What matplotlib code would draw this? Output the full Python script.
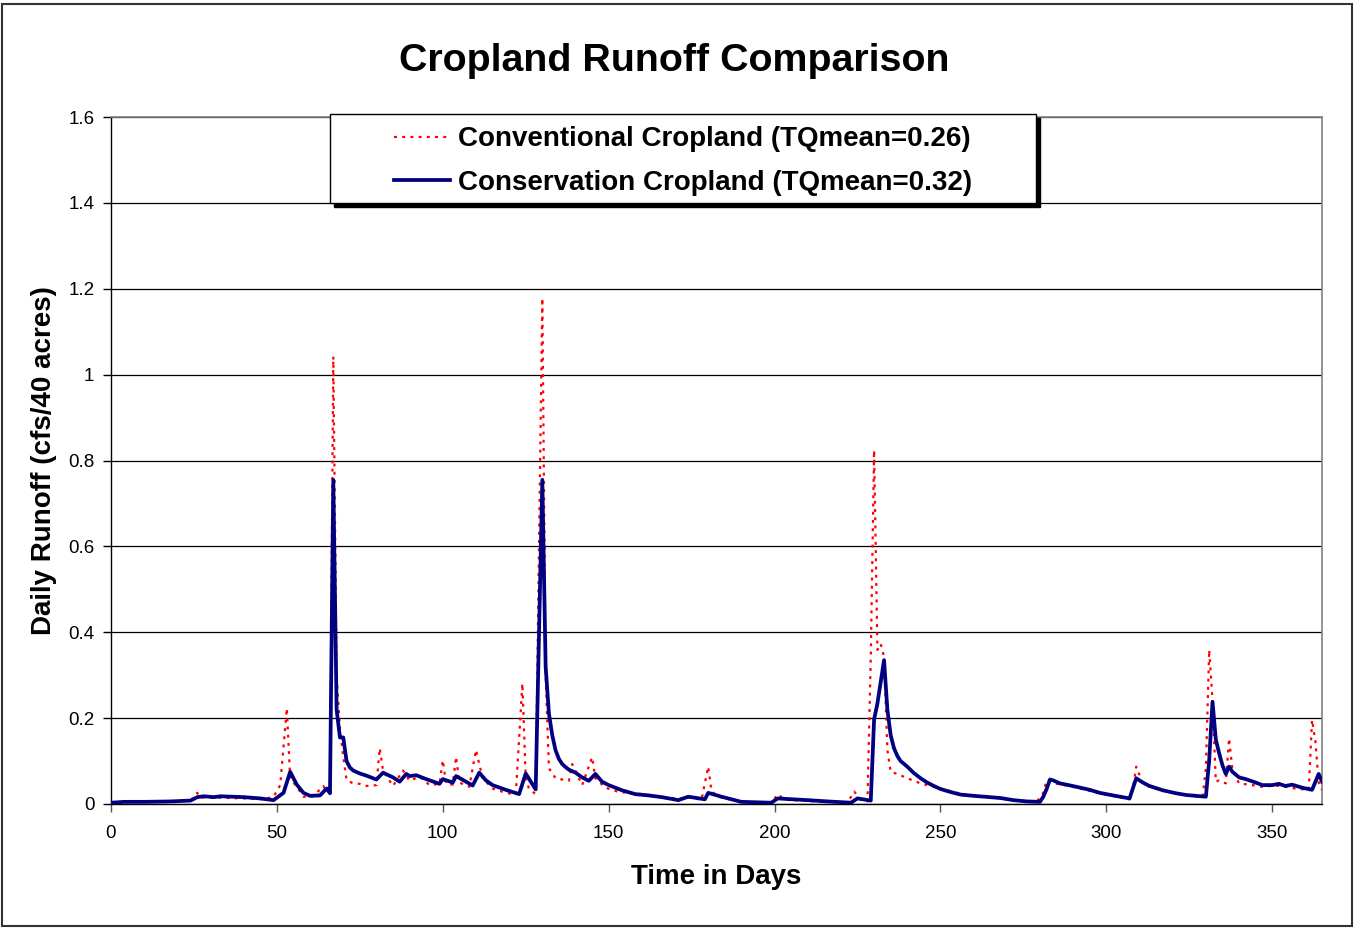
import matplotlib
matplotlib.use("Agg")
import matplotlib.pyplot as plt
from matplotlib.patches import Rectangle

plt.rcParams['font.family'] = ['Liberation Sans', 'DejaVu Sans']

# Conservation cropland (blue solid): (day, runoff)
cons_days = [0, 4, 10, 18, 24, 26, 28, 31, 33, 40, 45, 49, 52, 54, 56, 58, 60, 63, 65, 66,
             67, 68, 69, 70, 71, 72, 73, 75, 77, 80, 82, 85, 87, 89, 90, 92, 95, 99, 100,
             103, 104, 107, 109, 111, 113, 115, 119, 123, 125, 128, 130, 131, 132, 133, 134,
             135, 136, 137, 138, 140, 142, 144, 146, 148, 150, 154, 158, 162, 166, 171, 174,
             179, 180, 184, 190, 195, 199, 201, 203, 210, 216, 223, 225, 229, 230, 231, 233,
             234, 235, 236, 237, 238, 240, 242, 244, 246, 248, 250, 253, 256, 260, 265, 268,
             272, 276, 280, 281, 282, 283, 284, 286, 288, 291, 295, 298, 302, 307, 309, 311,
             313, 317, 321, 324, 327, 330, 331, 332, 333, 334, 335, 336, 337, 338, 340, 342,
             345, 347, 350, 352, 354, 356, 359, 362, 364, 365]
cons_vals = [0.003, 0.005, 0.005, 0.006, 0.008, 0.016, 0.018, 0.016, 0.018, 0.016, 0.013,
             0.009, 0.026, 0.075, 0.045, 0.026, 0.019, 0.02, 0.036, 0.025,
             0.755, 0.22, 0.155, 0.155, 0.1, 0.085, 0.078, 0.071, 0.066, 0.057, 0.073, 0.062,
             0.052, 0.07, 0.065, 0.067, 0.058, 0.047, 0.058,
             0.05, 0.065, 0.052, 0.043, 0.073, 0.055, 0.044, 0.033, 0.023, 0.071, 0.034,
             0.755, 0.32, 0.21, 0.16, 0.125, 0.105, 0.093, 0.086, 0.08, 0.073, 0.062, 0.054,
             0.07, 0.052, 0.044, 0.032, 0.023, 0.02, 0.016, 0.009, 0.017, 0.011, 0.026,
             0.017, 0.005, 0.004, 0.003, 0.013, 0.012, 0.009, 0.006, 0.003, 0.013, 0.008,
             0.197, 0.234, 0.335, 0.22, 0.16, 0.13, 0.112, 0.1, 0.087, 0.072, 0.06, 0.05,
             0.042, 0.035, 0.028, 0.022, 0.019, 0.016, 0.014, 0.009, 0.006, 0.005, 0.017,
             0.035, 0.057, 0.055, 0.048, 0.045, 0.04, 0.033, 0.026, 0.02, 0.013, 0.06,
             0.05, 0.042, 0.032, 0.025, 0.021, 0.019, 0.017, 0.102, 0.238, 0.15, 0.118,
             0.09, 0.07, 0.087, 0.075, 0.062, 0.058, 0.05, 0.044, 0.044, 0.047, 0.042,
             0.045, 0.038, 0.033, 0.07, 0.052]

# Conventional cropland (red dotted): (day, runoff)
conv_days = [0, 3, 4, 5, 10, 18, 24, 26, 27, 31, 40, 46, 49, 51, 53, 54, 56, 58, 61, 64,
             65, 66, 67, 68, 69, 70, 71, 73, 75, 77, 80, 81, 82, 85, 88, 90, 93, 96, 99,
             100, 101, 103, 104, 105, 108, 110, 112, 115, 119, 122, 124, 125, 126, 128, 130,
             131, 132, 134, 138, 139, 142, 145, 146, 149, 153, 159, 165, 171, 174, 178, 180,
             181, 183, 190, 199, 201, 203, 210, 216, 222, 224, 226, 228, 229, 230, 231, 232,
             233, 234, 235, 237, 240, 244, 248, 252, 256, 260, 265, 272, 279, 281, 282, 283,
             286, 291, 298, 307, 308, 309, 311, 313, 317, 321, 325, 329, 330, 331, 332, 333,
             334, 336, 337, 338, 340, 344, 347, 351, 354, 357, 361, 362, 363, 364, 365]
conv_vals = [0.003, 0.004, 0.01, 0.004, 0.004, 0.005, 0.008, 0.026, 0.015, 0.015, 0.013,
             0.011, 0.017, 0.044, 0.223, 0.06, 0.04, 0.017, 0.018, 0.042,
             0.028, 0.035, 1.042, 0.3, 0.177, 0.11, 0.056, 0.048, 0.047, 0.042, 0.044, 0.13,
             0.077, 0.042, 0.078, 0.054, 0.064, 0.044, 0.047,
             0.102, 0.047, 0.045, 0.11, 0.05, 0.04, 0.126, 0.06, 0.036, 0.026, 0.022, 0.281,
             0.06, 0.035, 0.023, 1.178,
             0.3, 0.083, 0.06, 0.054, 0.093, 0.044, 0.109, 0.06, 0.038, 0.028, 0.024, 0.018,
             0.012, 0.015, 0.01, 0.087,
             0.03, 0.017, 0.005, 0.003, 0.023, 0.01, 0.007, 0.005, 0.003, 0.029, 0.01, 0.006,
             0.343, 0.824, 0.359, 0.373,
             0.343, 0.126, 0.075, 0.07, 0.06, 0.048, 0.04, 0.032, 0.024, 0.019, 0.016, 0.009,
             0.005, 0.026, 0.055, 0.05,
             0.046, 0.038, 0.025, 0.011, 0.035, 0.087, 0.048, 0.04, 0.031, 0.024, 0.02, 0.016,
             0.083, 0.359, 0.242, 0.052,
             0.055, 0.048, 0.153, 0.079, 0.048, 0.044, 0.04, 0.043, 0.04, 0.036, 0.033, 0.196,
             0.147, 0.05, 0.033]

x_ticks = [0, 50, 100, 150, 200, 250, 300, 350]
y_ticks = [0, 0.2, 0.4, 0.6, 0.8, 1.0, 1.2, 1.4, 1.6]
y_tick_labels = ['0', '0.2', '0.4', '0.6', '0.8', '1', '1.2', '1.4', '1.6']
label_conv = 'Conventional Cropland (TQmean=0.26)'
label_cons = 'Conservation Cropland (TQmean=0.32)'

W, H = 1355, 931
fig = plt.figure(figsize=(W / 100, H / 100), dpi=100)
fig.patch.set_facecolor('white')

# outer border of the chart area
fig.add_artist(Rectangle((2 / W, 5 / H), 1350 / W, 922 / H, transform=fig.transFigure,
                         fill=False, edgecolor='#333333', linewidth=1.5))

left, right, top, bottom = 111, 1322, 117, 804
ax = fig.add_axes([left / W, 1 - bottom / H, (right - left) / W, (bottom - top) / H])

ax.plot(conv_days, conv_vals, color='#ff0000', linestyle=(0, (1.3, 2.4)), linewidth=1.6,
        label=label_conv, zorder=3)
ax.plot(cons_days, cons_vals, color='#000080', linestyle='-', linewidth=2.7,
        label=label_cons, zorder=4, solid_joinstyle='round')

ax.set_xlim(0, 365)
ax.set_ylim(0, 1.6)
ax.set_xticks(x_ticks)
ax.set_yticks(y_ticks)
ax.set_yticklabels(y_tick_labels)
ax.tick_params(axis='both', direction='out', length=6, width=1, labelsize=13.5)
ax.tick_params(axis='x', pad=9, color='#555555')
ax.tick_params(axis='y', pad=6)
ax.grid(axis='y', color='black', linewidth=0.9)
ax.set_axisbelow(True)
for s in ['top', 'right']:
    ax.spines[s].set_color('#808080')
    ax.spines[s].set_linewidth(1.2)
for s in ['left', 'bottom']:
    ax.spines[s].set_color('black')
    ax.spines[s].set_linewidth(1.0)

ax.set_xlabel('Time in Days', fontsize=20, fontweight='bold', labelpad=16)
ax.set_ylabel('Daily Runoff (cfs/40 acres)', fontsize=20, fontweight='bold', labelpad=8)

fig.text(674 / W, 1 - 61 / H, 'Cropland Runoff Comparison', fontsize=28.4, fontweight='bold',
         ha='center', va='center')

# legend box with shadow
bx0, by0, bx1, by1 = 330, 114, 1036, 203
sh = 4
ax.add_patch(Rectangle(((bx0 + sh) / W, 1 - (by1 + sh) / H), (bx1 - bx0) / W, (by1 - by0) / H,
                       transform=fig.transFigure, facecolor='black', edgecolor='black',
                       zorder=9, clip_on=False))
ax.add_patch(Rectangle((bx0 / W, 1 - by1 / H), (bx1 - bx0) / W, (by1 - by0) / H,
                       transform=fig.transFigure, facecolor='white', edgecolor='black',
                       linewidth=1.0, zorder=10, clip_on=False))
leg = ax.legend(loc='center', bbox_to_anchor=((bx0 + bx1) / 2 / W, 1 - 161 / H),
                bbox_transform=fig.transFigure, frameon=False, prop={'size': 20, 'weight': 'bold'},
                handlelength=2.0, handletextpad=0.3, labelspacing=0.62, borderpad=0)
leg.set_zorder(11)

fig.savefig('out.png', dpi=100, facecolor='white')
